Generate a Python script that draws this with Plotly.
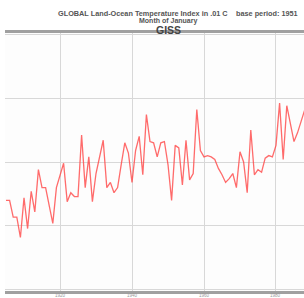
import plotly.graph_objects as go

years = list(range(1905, 1989))
anomaly = [-30, -30, -43, -43, -59, -28, -52, -23, -39, -6,
           -20, -20, -34, -48, -20, -10, -1, -31, -24, -27,
           -27, 21, -20, 4, -31, -9, 4, 17, -20, -16,
           -24, -20, -2, 15, 7, -16, 9, 20, -10, 37,
           16, 15, 4, 15, 16, -2, -30, 13, 11, -18,
           17, -14, -9, 41, 9, 4, 5, 4, 2, -5,
           -10, -16, -13, -9, -20, 8, 0, -24, 25, -10,
           -6, -8, 3, 5, 4, 13, 46, 2, 44, 29,
           16, 23, 33, 41]
x_ticks = [1920, 1940, 1960, 1980]
y_ticks = [-100, -50, 0, 50, 100]

W, H = 304, 298
ML, MR, MT, MB = 5, 0, 33, 7

fig = go.Figure()
fig.add_trace(go.Scatter(x=years, y=anomaly, mode="lines",
                         line=dict(color="rgba(255,70,70,0.8)", width=1.3),
                         hoverinfo="skip"))

def px_to_paper(xp, yp):
    return (xp - ML) / (W - ML - MR), (H - yp - MB) / (H - MT - MB)

texts = [
    (57, 13, "<b>GLOBAL Land-Ocean Temperature Index in .01 C</b>", "left", 7.3, "#555"),
    (235, 13, "<b>base period: 1951</b>", "left", 7.3, "#555"),
    (168, 21, "<b>Month of January</b>", "center", 7.0, "#555"),
    (168, 30, "<b>GISS</b>", "center", 10.5, "#444"),
]
annotations = []
for xp, yp, t, anchor, size, col in texts:
    ax, ay = px_to_paper(xp, yp)
    annotations.append(dict(x=ax, y=ay, xref="paper", yref="paper", text=t,
                            showarrow=False, xanchor=anchor, yanchor="middle",
                            borderpad=0,
                            font=dict(size=size, color=col, family="Arial")))
# x tick labels just below the bottom frame
_, y_lab = px_to_paper(0, 292)
for v in x_ticks:
    annotations.append(dict(x=v, y=y_lab, xref="x", yref="paper", text=str(v),
                            showarrow=False, xanchor="center", yanchor="top",
                            borderpad=0,
                            font=dict(size=4.5, color="#999", family="Arial")))

fig.update_layout(
    width=W, height=H,
    margin=dict(l=ML, r=MR, t=MT, b=MB),
    paper_bgcolor="white", plot_bgcolor="#fdfdfd",
    showlegend=False,
    xaxis=dict(range=[1904.72, 1987.78], tickvals=x_ticks, showticklabels=False,
               showgrid=True, gridcolor="#d8d8d8", gridwidth=1,
               showline=True, linecolor="#a0a0a0", linewidth=3, mirror=True,
               zeroline=False, ticks=""),
    yaxis=dict(range=[-100.8, 100.8], tickvals=y_ticks, showticklabels=False,
               showgrid=True, gridcolor="#d8d8d8", gridwidth=1,
               showline=False, zeroline=False, ticks=""),
    annotations=annotations,
)

fig.write_html("out.html", config={"displayModeBar": False},
               post_script="document.body.style.margin='0';document.body.style.overflow='hidden';")
